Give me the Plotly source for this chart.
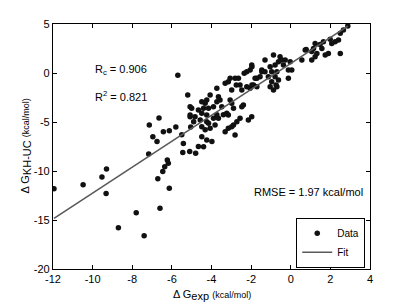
import plotly.graph_objects as go

dg_exp = [
    -11.95, -10.48, -9.53, -9.30, -9.32, -8.70, -7.80, -7.40, -7.17, -6.71,
    -6.60, -6.46, -6.36, -6.23, -6.18, -6.13, -5.10, -5.45,
    -5.70, -5.20, -7.14, -6.65, -6.96, -6.75, -6.43, -6.13, -5.80, -5.50,
    -5.42, -5.05, -5.08, -5.00, -4.66, -4.80,
    -5.08, -4.66, -4.40, -4.15, -4.07, -4.24, -4.32, -4.49, -3.73, -3.65,
    -3.57, -3.73, -3.90, -3.48, -3.06, -2.98, -2.89, -2.47, -2.39, -3.23,
    -3.40, -3.73, -3.90, -4.24, -4.49, -5.08, -4.83, -4.90, -4.57, -4.24,
    -3.15, -3.65, -2.56, -2.72, -2.89, -2.98, -3.15, -3.31, -2.81, -3.82,
    -4.15, -4.07, -4.32, -4.49, -4.49, -4.24, -3.98, -4.40, -2.14, -1.97,
    -3.15, -3.31, -3.06, -2.81, -2.64, -2.56, -2.75, -2.47, -2.22, -2.98,
    -2.35, -2.22, -2.05, -1.97, -1.88, -2.05, -1.71, -1.55, -1.46, -1.30,
    -1.13, -0.96, -0.87, -0.74, -0.62, -0.79, -0.70, -0.96, -1.04, -1.30,
    -0.79, -0.87, -0.62, -0.54, -0.45, -0.28, -0.37, -0.12, -0.12, -0.03,
    -1.46, -1.80, -1.96, -1.71, -1.04, -0.70, 0.05, -1.96,
    0.56, 0.78, 1.06, 1.23, 1.32, 1.15, 1.23, 1.57, 1.65, 1.99,
    1.74, 1.90, 2.50, 2.07, 2.24, 2.41, 2.50, 2.66, 2.88, 0.73,
    1.06, 1.48,
]
dg_khuc = [
    -11.80, -11.40, -10.60, -9.80, -12.30, -15.80, -14.25, -16.60, -8.27, -10.80,
    -13.80, -10.04, -9.56, -8.88, -9.20, -11.77, -8.00, -8.10,
    -0.24, -2.24, -5.30, -4.60, -6.50, -7.00, -6.00, -5.90, -5.50, -6.30,
    -7.20, -5.50, -4.46, -3.60, -7.50, -8.20,
    -3.44, -3.78, -3.60, -3.60, -2.24, -2.75, -3.09, -2.93, -1.56, -2.42,
    -2.75, -2.93, -3.44, -3.44, -2.75, -3.09, -3.60, -3.44, -3.27, -4.10,
    -4.27, -4.27, -4.62, -4.29, -4.11, -4.29, -4.46, -4.97, -4.80, -4.97,
    -4.29, -4.62, -4.62, -4.97, -5.30, -5.48, -5.64, -5.99, -6.33, -5.30,
    -5.13, -5.64, -5.80, -5.48, -6.50, -6.84, -7.00, -7.52, -4.80, -4.46,
    -0.89, -1.05, -0.54, -0.54, -0.54, -1.22, -1.22, -1.73, -1.40, -1.73,
    -0.03, 0.13, 0.31, 0.82, -1.22, -1.56, -0.54, -0.38, 0.13, 0.13,
    -0.38, -0.89, -1.73, -1.22, -0.71, -0.38, 0.13, 0.13, 0.64, 1.33,
    0.82, 1.84, 1.15, 1.66, 1.33, 1.33, 0.82, 0.30, -0.54, 1.15,
    0.31, -0.54, -1.22, -1.40, -1.40, -1.40, 0.31, 0.64,
    1.33, 2.40, 2.20, 1.66, 2.00, 2.50, 3.00, 2.50, 3.20, 3.44,
    1.84, 2.00, 2.00, 3.00, 3.20, 3.37, 4.05, 4.40, 4.80, 2.35,
    1.33, 2.90,
]

# Fit line
fit_slope = 1.322
fit_intercept = 0.97
fit_x = [min(dg_exp), max(dg_exp)]
fit_y = [fit_intercept + fit_slope * v for v in fit_x]

x_ticks = [-12, -10, -8, -6, -4, -2, 0, 2, 4]
y_ticks = [-20, -15, -10, -5, 0, 5]

FONT = "Liberation Sans, Arial, Helvetica, sans-serif"

fig = go.Figure()
fig.add_trace(go.Scatter(
    x=dg_exp, y=dg_khuc, mode="markers", name="Data",
    marker=dict(color="#111111", size=5.5, line=dict(width=0)),
))
fig.add_trace(go.Scatter(
    x=fit_x, y=fit_y, mode="lines", name="Fit",
    line=dict(color="#5a5a5a", width=1.6),
))

annot_font = dict(family=FONT, size=11, color="black")
fig.add_annotation(x=-10.0, y=0.31, text="R<sub>c</sub> = 0.906", showarrow=False,
                   xanchor="left", yanchor="middle", font=annot_font)
fig.add_annotation(x=-10.0, y=-2.3, text="R<sup>2</sup> = 0.821", showarrow=False,
                   xanchor="left", yanchor="middle", font=annot_font)
fig.add_annotation(x=-1.97, y=-12.15, text="RMSE = 1.97 kcal/mol", showarrow=False,
                   xanchor="left", yanchor="middle", font=annot_font)

# Axis titles
fig.add_annotation(xref="paper", yref="paper", x=0.5, y=0, yanchor="top", xanchor="center",
                   yshift=-17, showarrow=False, font=annot_font,
                   text="Δ G<sub><span style='font-size:11px'>exp</span></sub> "
                        "<span style='font-size:9px'>(kcal/mol)</span>")
fig.add_annotation(xref="paper", yref="paper", x=0, y=0.5, xanchor="center", yanchor="middle",
                   xshift=-28, textangle=-90, showarrow=False, font=annot_font,
                   text="Δ G<sub><span style='font-size:11px'>KH-UC</span></sub> "
                        "<span style='font-size:9px'>(kcal/mol)</span>")

axis_common = dict(
    showgrid=False, zeroline=False, showline=True, linecolor="black", linewidth=1.2,
    mirror="ticks", ticks="inside", ticklen=4, tickwidth=1, tickcolor="black",
    tickfont=dict(family=FONT, size=11, color="black"), automargin=False,
)

# The page body adds an 8px offset, so the figure is 8px smaller than the window
fig.update_layout(
    width=401, height=299,
    margin=dict(l=45, r=39, t=16, b=38),
    paper_bgcolor="white", plot_bgcolor="white",
    font=dict(family=FONT, size=11, color="black"),
    xaxis=dict(range=[-12, 4], tickvals=x_ticks, ticktext=[str(v) for v in x_ticks],
               **axis_common),
    yaxis=dict(range=[-20, 5], tickvals=y_ticks, ticktext=[str(v) for v in y_ticks],
               **axis_common),
    legend=dict(x=0.985, y=0.005, xanchor="right", yanchor="bottom",
                bgcolor="white", bordercolor="black", borderwidth=1,
                font=dict(family=FONT, size=10, color="black"),
                itemwidth=30, tracegroupgap=0),
    showlegend=True,
)

fig.write_html("out.html")
